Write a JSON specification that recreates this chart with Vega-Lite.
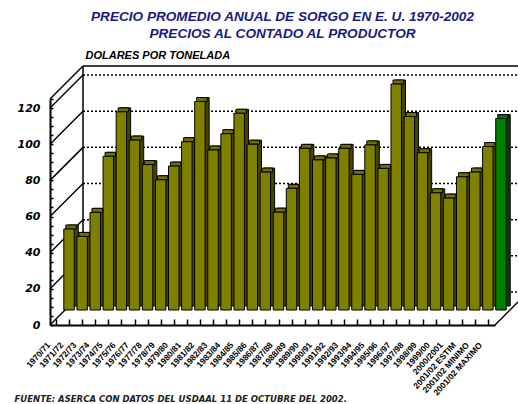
{
  "$schema": "https://vega.github.io/schema/vega-lite/v6.json",
  "autosize": "none",
  "width": 445,
  "height": 226,
  "padding": {"left": 50, "top": 99, "right": 23, "bottom": 79},
  "background": "white",
  "config": {"view": {"stroke": null}, "font": "Liberation Sans"},
  "title": {
    "text": ["PRECIO PROMEDIO ANUAL DE SORGO EN E. U. 1970-2002", "PRECIOS AL CONTADO AL PRODUCTOR"],
    "font": "Liberation Sans",
    "fontSize": 13.6,
    "fontWeight": "bold",
    "fontStyle": "italic",
    "color": "#1a1a80",
    "anchor": "middle",
    "frame": "group",
    "baseline": "bottom",
    "dx": 10,
    "offset": -6,
    "lineHeight": 17
  },
  "datasets": {
    "precios": [
      {"ciclo": "1970/71", "precio": 44.8},
      {"ciclo": "1971/72", "precio": 40.7},
      {"ciclo": "1972/73", "precio": 54.0},
      {"ciclo": "1973/74", "precio": 85.0},
      {"ciclo": "1974/75", "precio": 109.6},
      {"ciclo": "1975/76", "precio": 94.0},
      {"ciclo": "1976/77", "precio": 80.4},
      {"ciclo": "1977/78", "precio": 72.0},
      {"ciclo": "1978/79", "precio": 79.6},
      {"ciclo": "1979/80", "precio": 93.1},
      {"ciclo": "1980/81", "precio": 115.3},
      {"ciclo": "1981/82", "precio": 88.5},
      {"ciclo": "1982/83", "precio": 97.5},
      {"ciclo": "1983/84", "precio": 108.8},
      {"ciclo": "1984/85", "precio": 91.7},
      {"ciclo": "1985/86", "precio": 76.3},
      {"ciclo": "1986/87", "precio": 54.1},
      {"ciclo": "1987/88", "precio": 67.3},
      {"ciclo": "1988/89", "precio": 89.4},
      {"ciclo": "1989/90", "precio": 83.0},
      {"ciclo": "1990/91", "precio": 84.1},
      {"ciclo": "1991/92", "precio": 89.4},
      {"ciclo": "1992/93", "precio": 75.0},
      {"ciclo": "1993/94", "precio": 91.3},
      {"ciclo": "1994/95", "precio": 78.3},
      {"ciclo": "1995/96", "precio": 125.0},
      {"ciclo": "1996/97", "precio": 107.0},
      {"ciclo": "1997/98", "precio": 87.0},
      {"ciclo": "1998/99", "precio": 64.8},
      {"ciclo": "1999/00", "precio": 61.9},
      {"ciclo": "2000/2001", "precio": 73.7},
      {"ciclo": "2001/02 ESTIM", "precio": 76.3},
      {"ciclo": "2001/02 MINIMO", "precio": 90.4},
      {"ciclo": "2001/02 MAXIMO", "precio": 105.9}
    ],
    "reticula": [
      {"v": 0}, {"v": 20}, {"v": 40}, {"v": 60}, {"v": 80}, {"v": 100}, {"v": 120}
    ]
  },
  "resolve": {"scale": {"x": "independent"}, "axis": {"x": "independent", "y": "independent"}},
  "layer": [
    {
      "data": {"name": "reticula"},
      "mark": {"type": "rule", "xOffset": 33, "x2Offset": 33, "yOffset": -33, "y2Offset": -33, "color": "black", "strokeWidth": 1.5, "strokeDash": [2, 2]},
      "encoding": {
        "x": {"datum": 0, "type": "quantitative", "scale": {"domain": [0, 34]}, "axis": null},
        "x2": {"datum": 34},
        "y": {"field": "v", "type": "quantitative", "scale": {"domain": [0, 125]}, "axis": null}
      }
    },
    {
      "data": {"name": "reticula"},
      "mark": {"type": "rule", "x2Offset": 33, "y2Offset": -33, "color": "black", "strokeWidth": 1.5},
      "encoding": {
        "x": {"datum": 0, "type": "quantitative", "scale": {"domain": [0, 34]}, "axis": null},
        "x2": {"datum": 0},
        "y": {"field": "v", "type": "quantitative", "scale": {"domain": [0, 125]}, "axis": null},
        "y2": {"field": "v"}
      }
    },
    {
      "data": {"values": [{}]},
      "mark": {"type": "rule", "x2Offset": 33, "y2Offset": -33, "color": "black", "strokeWidth": 1.5},
      "encoding": {
        "x": {"datum": 0, "type": "quantitative", "scale": {"domain": [0, 34]}, "axis": null},
        "x2": {"datum": 0},
        "y": {"datum": 125, "type": "quantitative", "scale": {"domain": [0, 125]}, "axis": null},
        "y2": {"datum": 125}
      }
    },
    {
      "data": {"values": [{}]},
      "mark": {"type": "rule", "xOffset": 33, "x2Offset": 33, "yOffset": -33, "y2Offset": -33, "color": "black", "strokeWidth": 1.5},
      "encoding": {
        "x": {"datum": 0, "type": "quantitative", "scale": {"domain": [0, 34]}, "axis": null},
        "x2": {"datum": 34},
        "y": {"datum": 125, "type": "quantitative", "scale": {"domain": [0, 125]}, "axis": null},
        "y2": {"datum": 125}
      }
    },
    {
      "data": {"values": [{}]},
      "mark": {"type": "rule", "xOffset": 33, "yOffset": -33, "y2Offset": -33, "color": "black", "strokeWidth": 1.5},
      "encoding": {
        "x": {"datum": 0, "type": "quantitative", "scale": {"domain": [0, 34]}, "axis": null},
        "y": {"datum": 0, "type": "quantitative", "scale": {"domain": [0, 125]}, "axis": null},
        "y2": {"datum": 125}
      }
    },
    {
      "data": {"values": [{}]},
      "mark": {"type": "rule", "x2Offset": 33, "y2Offset": -33, "color": "black", "strokeWidth": 1.5},
      "encoding": {
        "x": {"datum": 34, "type": "quantitative", "scale": {"domain": [0, 34]}, "axis": null},
        "x2": {"datum": 34},
        "y": {"datum": 0, "type": "quantitative", "scale": {"domain": [0, 125]}, "axis": null},
        "y2": {"datum": 0}
      }
    },
    {
      "data": {"name": "precios"},
      "mark": {"type": "bar", "xOffset": 16.5, "yOffset": -19, "y2Offset": -19, "stroke": "black", "strokeWidth": 1},
      "encoding": {
        "x": {"field": "ciclo", "type": "nominal", "sort": null, "scale": {"paddingInner": 0.2, "paddingOuter": 0.1}, "axis": null},
        "y": {"field": "precio", "type": "quantitative", "scale": {"domain": [0, 125]}, "axis": null},
        "color": {"condition": {"test": "datum.ciclo === '2001/02 MAXIMO'", "value": "#004000"}, "value": "#454500"}
      }
    },
    {
      "data": {"name": "precios"},
      "mark": {"type": "bar", "xOffset": 14.5, "yOffset": -19, "y2Offset": -15, "stroke": "black", "strokeWidth": 1},
      "encoding": {
        "x": {"field": "ciclo", "type": "nominal", "sort": null, "scale": {"paddingInner": 0.2, "paddingOuter": 0.1}, "axis": null},
        "y": {"field": "precio", "type": "quantitative", "scale": {"domain": [0, 125]}, "axis": null},
        "y2": {"field": "precio"},
        "color": {"condition": {"test": "datum.ciclo === '2001/02 MAXIMO'", "value": "#007000"}, "value": "#707000"}
      }
    },
    {
      "data": {"name": "precios"},
      "mark": {"type": "bar", "xOffset": 12.5, "yOffset": -15, "y2Offset": -15, "stroke": "black", "strokeWidth": 1},
      "encoding": {
        "x": {
          "field": "ciclo", "type": "nominal", "sort": null,
          "scale": {"paddingInner": 0.2, "paddingOuter": 0.1},
          "axis": {
            "title": "FUENTE: ASERCA CON DATOS DEL USDAAL 11 DE OCTUBRE DEL 2002.",
            "titleFont": "DejaVu Sans", "titleFontSize": 8.5, "titleFontWeight": "bold", "titleFontStyle": "italic",
            "titleColor": "#222222", "titleAngle": 0, "titleAlign": "left", "titleBaseline": "alphabetic",
            "titleX": -36, "titleY": 76,
            "domain": true, "domainColor": "black", "domainWidth": 2,
            "ticks": true, "tickSize": -6, "tickColor": "black", "tickWidth": 1.5,
            "labelAngle": -48, "labelAlign": "right", "labelBaseline": "middle",
            "labelFont": "Liberation Sans", "labelFontSize": 8.5, "labelFontWeight": "bold", "labelColor": "black",
            "labelPadding": 24, "labelOffset": -8, "labelOverlap": false, "labelBound": false, "labelFlush": false
          }
        },
        "y": {
          "field": "precio", "type": "quantitative", "scale": {"domain": [0, 125]},
          "axis": {
            "title": "DOLARES POR TONELADA",
            "titleFont": "Liberation Sans", "titleFontSize": 11, "titleFontWeight": "bold", "titleFontStyle": "italic",
            "titleColor": "black", "titleAngle": 0, "titleAlign": "left", "titleBaseline": "alphabetic",
            "titleX": 35, "titleY": -41,
            "values": [0, 5, 10, 15, 20, 25, 30, 35, 40, 45, 50, 55, 60, 65, 70, 75, 80, 85, 90, 95, 100, 105, 110, 115, 120, 125],
            "labelExpr": "datum.value % 20 === 0 ? datum.label : ''",
            "grid": false, "domain": true, "domainColor": "black", "domainWidth": 2,
            "ticks": true, "tickSize": -3, "tickColor": "black", "tickWidth": 1.5,
            "labelFont": "DejaVu Sans", "labelFontSize": 11, "labelFontWeight": "bold", "labelFontStyle": "italic",
            "labelColor": "black", "labelPadding": 13, "labelOverlap": false
          }
        },
        "color": {"condition": {"test": "datum.ciclo === '2001/02 MAXIMO'", "value": "#008000"}, "value": "#808000"}
      }
    }
  ]
}
